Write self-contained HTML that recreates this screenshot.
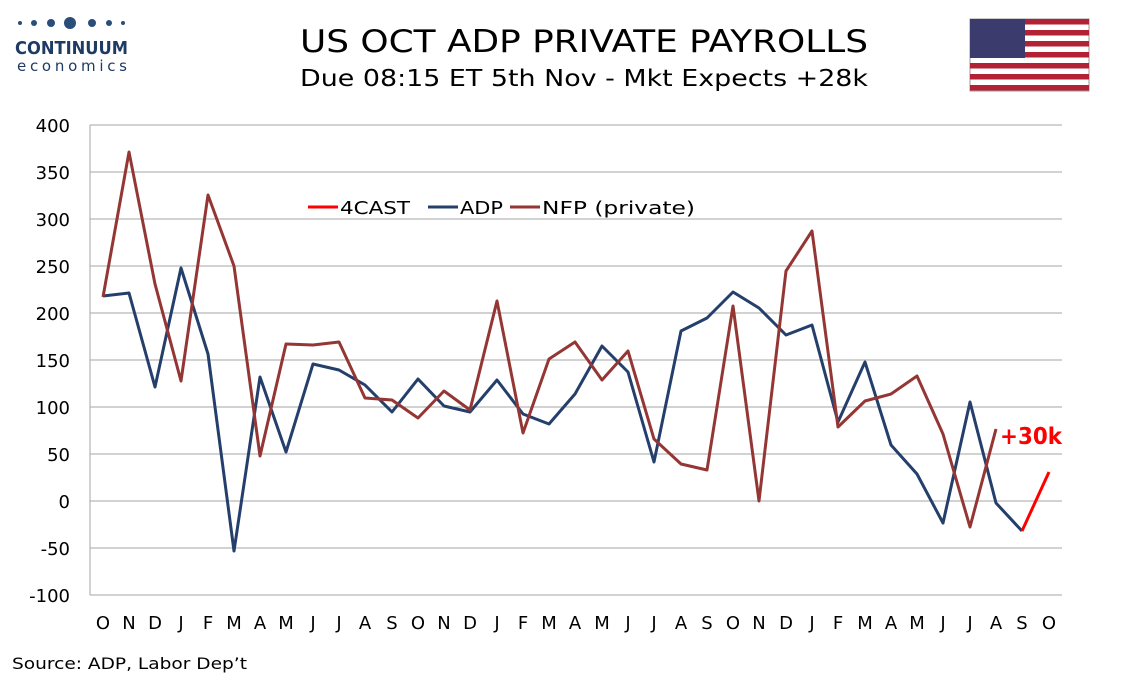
<!DOCTYPE html>
<html><head><meta charset="utf-8"><style>
body{margin:0;background:#fff;width:1134px;height:680px;overflow:hidden;font-family:"DejaVu Sans",sans-serif;}
</style></head><body>
<svg width="1134" height="680" viewBox="0 0 1134 680" xmlns="http://www.w3.org/2000/svg" font-family="DejaVu Sans, sans-serif">
<g fill="#2a4d7a">
<circle cx="20" cy="23" r="2"/><circle cx="34" cy="23" r="3"/><circle cx="51" cy="23" r="4"/><circle cx="70" cy="23" r="6"/><circle cx="92" cy="23" r="4"/><circle cx="109" cy="23" r="3"/><circle cx="123" cy="23" r="2"/>
</g>
<text x="15" y="54" font-size="18" font-weight="bold" fill="#1f3b63" textLength="113" lengthAdjust="spacingAndGlyphs">CONTINUUM</text>
<text x="17" y="71" font-size="15" fill="#1f3b63" textLength="110" lengthAdjust="spacing">economics</text>
<text x="300" y="52" font-size="31" fill="#000" textLength="568" lengthAdjust="spacingAndGlyphs">US OCT ADP PRIVATE PAYROLLS</text>
<text x="300" y="86" font-size="23" fill="#000" textLength="568" lengthAdjust="spacingAndGlyphs">Due 08:15 ET 5th Nov - Mkt Expects +28k</text>
<g>
<rect x="970" y="19" width="119" height="72" fill="#fff" stroke="#999"/>
<g fill="#b22234">
<rect x="970" y="19" width="119" height="5.5"/><rect x="970" y="30" width="119" height="5.5"/><rect x="970" y="41" width="119" height="5.5"/><rect x="970" y="52" width="119" height="5.5"/><rect x="970" y="63" width="119" height="5.5"/><rect x="970" y="74" width="119" height="5.5"/><rect x="970" y="85" width="119" height="5.5"/>
</g>
<rect x="970" y="19" width="55" height="39" fill="#3c3b6e"/>
</g>
<g stroke="#a6a6a6" stroke-width="1">
<line x1="90" x2="1062" y1="125" y2="125"/><line x1="90" x2="1062" y1="172" y2="172"/><line x1="90" x2="1062" y1="219" y2="219"/><line x1="90" x2="1062" y1="266" y2="266"/><line x1="90" x2="1062" y1="313" y2="313"/><line x1="90" x2="1062" y1="360" y2="360"/><line x1="90" x2="1062" y1="407" y2="407"/><line x1="90" x2="1062" y1="454" y2="454"/><line x1="90" x2="1062" y1="501" y2="501"/><line x1="90" x2="1062" y1="548" y2="548"/><line x1="90" x2="1062" y1="595" y2="595"/>
<line x1="90" x2="90" y1="125" y2="595"/>
</g>
<g font-size="18" text-anchor="end" fill="#000">
<text x="70" y="132">400</text><text x="70" y="179">350</text><text x="70" y="226">300</text><text x="70" y="273">250</text><text x="70" y="320">200</text><text x="70" y="367">150</text><text x="70" y="414">100</text><text x="70" y="461">50</text><text x="70" y="508">0</text><text x="70" y="555">-50</text><text x="70" y="602">-100</text>
</g>
<g font-size="18" text-anchor="middle" fill="#000">
<text x="103" y="629">O</text><text x="129" y="629">N</text><text x="155" y="629">D</text><text x="181" y="629">J</text><text x="208" y="629">F</text><text x="234" y="629">M</text><text x="260" y="629">A</text><text x="286" y="629">M</text><text x="313" y="629">J</text><text x="339" y="629">J</text><text x="365" y="629">A</text><text x="392" y="629">S</text><text x="418" y="629">O</text><text x="444" y="629">N</text><text x="470" y="629">D</text><text x="497" y="629">J</text><text x="523" y="629">F</text><text x="549" y="629">M</text><text x="575" y="629">A</text><text x="602" y="629">M</text><text x="628" y="629">J</text><text x="654" y="629">J</text><text x="681" y="629">A</text><text x="707" y="629">S</text><text x="733" y="629">O</text><text x="759" y="629">N</text><text x="786" y="629">D</text><text x="812" y="629">J</text><text x="838" y="629">F</text><text x="865" y="629">M</text><text x="891" y="629">A</text><text x="917" y="629">M</text><text x="943" y="629">J</text><text x="970" y="629">J</text><text x="996" y="629">A</text><text x="1022" y="629">S</text><text x="1049" y="629">O</text>
</g>
<g fill="none" stroke-width="3" stroke-linejoin="round">
<polyline stroke="#243f6b" points="103,296 129,293 155,387 181,268 208,354 234,551 260,377 286,452 313,364 339,370 365,385 392,412 418,379 444,406 470,412 497,380 523,414 549,424 575,394 602,346 628,372 654,462 681,331 707,318 733,292 759,308 786,335 812,325 838,422 865,362 891,445 917,474 943,523 970,402 996,503 1022,531"/>
<polyline stroke="#943634" points="103,297 129,152 155,284 181,381 208,195 234,266 260,456 286,344 313,345 339,342 365,398 392,400 418,418 444,391 470,410 497,301 523,433 549,359 575,342 602,380 628,351 654,439 681,464 707,470 733,306 759,501 786,271 812,231 838,427 865,401 891,394 917,376 943,434 970,527 996,429"/>
<polyline stroke="#ff0000" points="1022,531 1049,472"/>
</g>
<text x="1000" y="444" font-size="23" font-weight="bold" fill="#ff0000" textLength="62" lengthAdjust="spacingAndGlyphs">+30k</text>
<line x1="308" x2="338" y1="207" y2="207" stroke="#ff0000" stroke-width="3"/>
<text x="340" y="214" font-size="18" textLength="70" lengthAdjust="spacingAndGlyphs">4CAST</text>
<line x1="428" x2="458" y1="207" y2="207" stroke="#243f6b" stroke-width="3"/>
<text x="460" y="214" font-size="18" textLength="43" lengthAdjust="spacingAndGlyphs">ADP</text>
<line x1="510" x2="540" y1="207" y2="207" stroke="#943634" stroke-width="3"/>
<text x="542" y="214" font-size="18" textLength="153" lengthAdjust="spacingAndGlyphs">NFP (private)</text>
<text x="12" y="669" font-size="16" textLength="235" lengthAdjust="spacingAndGlyphs">Source: ADP, Labor Dep’t</text>
</svg>
</body></html>
